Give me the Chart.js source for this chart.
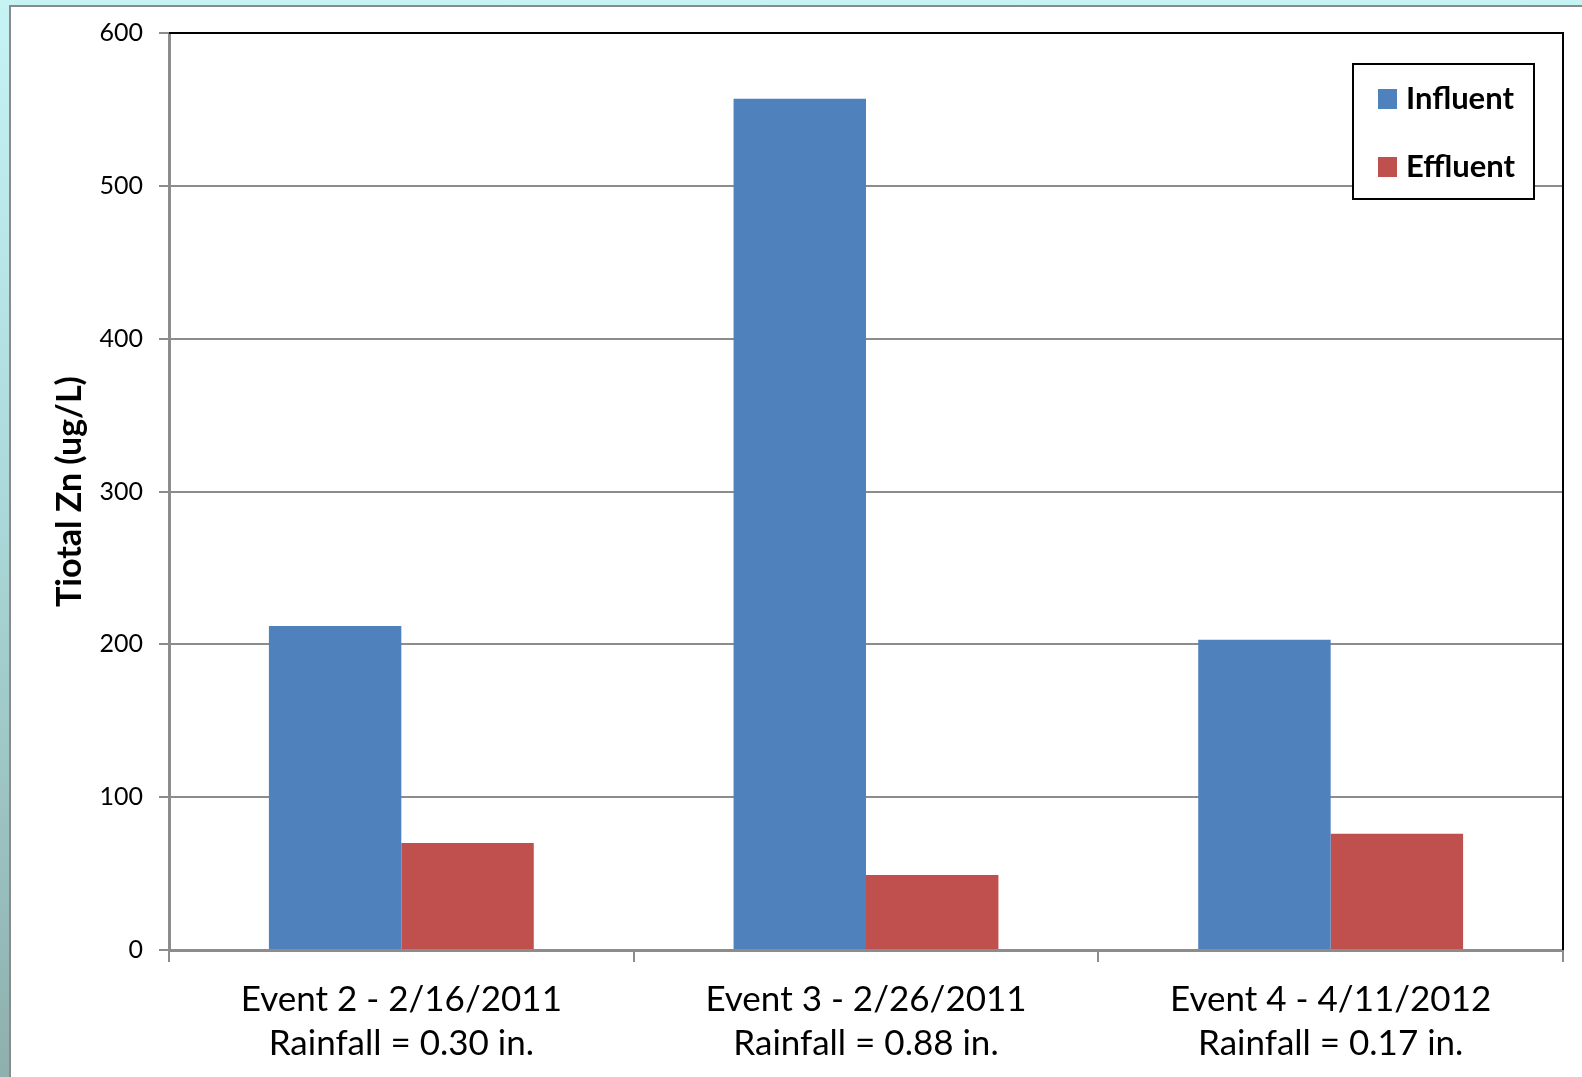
<!DOCTYPE html>
<html>
<head>
<meta charset="utf-8">
<script src="https://cdn.jsdelivr.net/npm/chart.js@4"></script>
<style>
    html, body { margin: 0; padding: 0; width: 1582px; height: 1077px; overflow: hidden; }
    body { background: linear-gradient(to bottom, #c6f3f3 0%, #a9d6d6 50%, #8eb0ae 100%); position: relative; }
    #panel { position: absolute; left: 9px; top: 5px; width: 1600px; height: 1100px; background: #fff; border: 2px solid #8a8a8a; }
    #myChart { position: absolute; left: 0; top: 0; }
</style>
</head>
<body>
<div id="panel"></div>
<canvas id="myChart" width="1582" height="1077"></canvas>
<script>
// Chart data
const categories = [
    ['Event 2 - 2/16/2011', 'Rainfall = 0.30 in.'],
    ['Event 3 - 2/26/2011', 'Rainfall = 0.88 in.'],
    ['Event 4 - 4/11/2012', 'Rainfall = 0.17 in.']
];
const influent = [212, 557, 203];
const effluent = [70, 49, 76];
const seriesNames = ['Influent', 'Effluent'];
const yMin = 0;
const yMax = 600;
const yStep = 100;

const blue = '#4f81bd';
const red = '#c0504d';
const gridGray = '#8c8c8c';

// Black frame on top and right of the plot area
const frameLines = {
    id: 'frameLines',
    afterDatasetsDraw(chart) {
        const { ctx, chartArea: a } = chart;
        ctx.save();
        ctx.strokeStyle = '#000';
        ctx.lineWidth = 2;
        ctx.beginPath();
        ctx.moveTo(a.left, a.top);
        ctx.lineTo(a.right, a.top);
        ctx.lineTo(a.right, a.bottom);
        ctx.stroke();
        ctx.restore();
    }
};

// Legend box drawn inside the plot area
const boxLegend = {
    id: 'boxLegend',
    afterDraw(chart) {
        const ctx = chart.ctx;
        const x = 1353, y = 64, w = 181, h = 135;
        ctx.save();
        ctx.fillStyle = '#fff';
        ctx.fillRect(x, y, w, h);
        ctx.strokeStyle = '#000';
        ctx.lineWidth = 2;
        ctx.strokeRect(x, y, w, h);
        ctx.font = 'bold 31px Lato';
        ctx.textBaseline = 'middle';
        chart.data.datasets.forEach((ds, i) => {
            const cy = y + 35 + i * 68;
            ctx.fillStyle = ds.backgroundColor;
            ctx.fillRect(x + 25, cy - 10, 19, 20);
            ctx.fillStyle = '#000';
            ctx.fillText(ds.label, x + 53, cy);
        });
        ctx.restore();
    }
};

new Chart(document.getElementById('myChart').getContext('2d'), {
    type: 'bar',
    data: {
        labels: categories,
        datasets: [
            { label: seriesNames[0], data: influent, backgroundColor: blue },
            { label: seriesNames[1], data: effluent, backgroundColor: red }
        ]
    },
    options: {
        responsive: false,
        animation: false,
        layout: { padding: { left: 0, top: 33, right: 19, bottom: 0 } },
        datasets: { bar: { categoryPercentage: 0.57, barPercentage: 1.0, borderWidth: 0 } },
        plugins: {
            legend: { display: false },
            tooltip: { enabled: false }
        },
        scales: {
            x: {
                afterFit: (scale) => { scale.height = 127; },
                grid: { display: true, drawOnChartArea: false, drawTicks: true, tickLength: 12, color: gridGray, lineWidth: 2 },
                border: { color: gridGray, width: 3 },
                ticks: { color: '#000', padding: 15, font: { family: 'Lato', size: 35, lineHeight: 1.27 }, maxRotation: 0 }
            },
            y: {
                min: yMin,
                max: yMax,
                afterFit: (scale) => { scale.width = 169; },
                grid: { color: gridGray, lineWidth: 2, drawTicks: true, tickLength: 10 },
                border: { color: gridGray, width: 3 },
                ticks: { stepSize: yStep, color: '#000', padding: 16, font: { family: 'Lato', size: 25 } },
                title: {
                    display: true,
                    text: 'Tiotal Zn (ug/L)',
                    color: '#000',
                    padding: { top: 50 },
                    font: { family: 'Lato', size: 34, weight: 'bold' }
                }
            }
        }
    },
    plugins: [frameLines, boxLegend]
});
</script>
</body>
</html>
